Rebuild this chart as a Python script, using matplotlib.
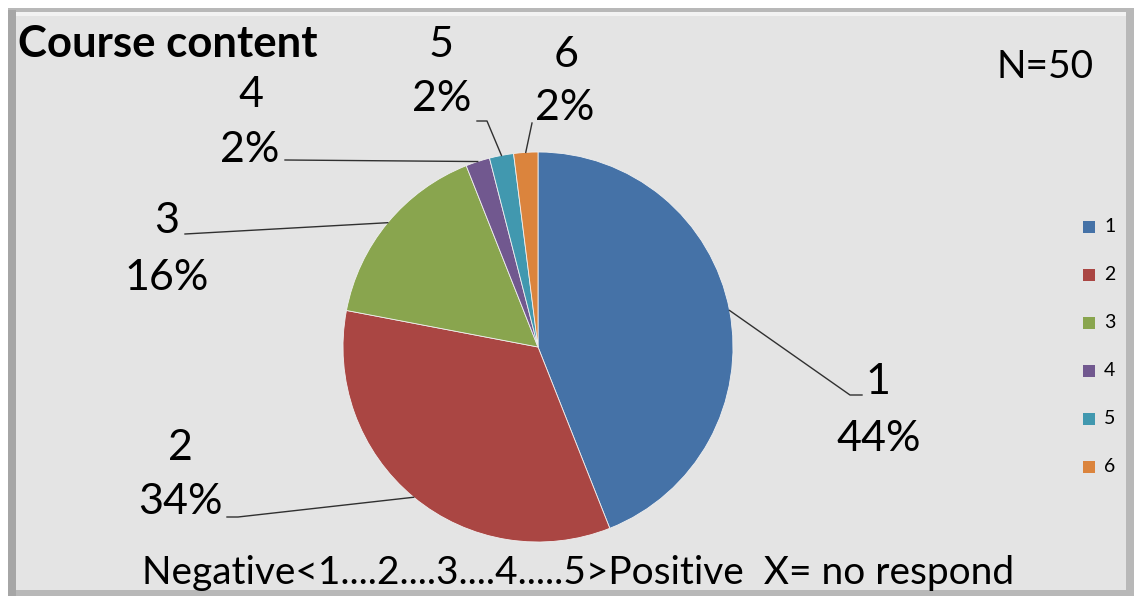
import matplotlib
matplotlib.use("Agg")
import matplotlib.pyplot as plt
from matplotlib.patches import Rectangle
import numpy as np

# ---- data ----
categories = ["1", "2", "3", "4", "5", "6"]
values = [44, 34, 16, 2, 2, 2]
pct_labels = ["44%", "34%", "16%", "2%", "2%", "2%"]
colors = ["#4572A7", "#AA4643", "#89A54E", "#71588F", "#4198AF", "#DB843D"]
title = "Course content"
n_text = "N=50"
footer = "Negative<1....2....3....4.....5>Positive  X= no respond"

W, H = 1138, 601
FONT = ["Lato", "DejaVu Sans"]
plt.rcParams["font.family"] = FONT

fig = plt.figure(figsize=(W / 100, H / 100), dpi=100)
fig.patch.set_facecolor("white")
ax = fig.add_axes([0, 0, 1, 1])

def Y(y):  # screen pixel -> data y
    return H - y

# frame / background
ax.add_patch(Rectangle((8, Y(596)), 1126, 588, facecolor="#b8b8b8", edgecolor="none", zorder=0))
ax.add_patch(Rectangle((8, Y(596)), 8, 586, facecolor="#a6a6a6", edgecolor="none", zorder=0))
ax.add_patch(Rectangle((16, Y(590)), 1110, 578, facecolor="#e4e4e4", edgecolor="none", zorder=0))
ax.add_patch(Rectangle((16, Y(16)), 1110, 4, facecolor="#f2f2f2", edgecolor="none", zorder=0))

# pie
cx, cy, r = 538, Y(347), 195
wedges, _ = ax.pie(values, colors=colors, startangle=90, counterclock=False,
                   center=(cx, cy), radius=r,
                   wedgeprops=dict(edgecolor="#f0f0f0", linewidth=0.6))

# labels: (num center), (pct center), path (elbow points, screen)
num_pos = [(878, 382), (180, 448), (167, 221), (251, 95), (441, 45), (566, 55)]
pct_pos = [(879, 439), (180, 502), (167, 278), (250, 150), (442, 99), (565, 108)]
elbows = [[(850, 395), (862, 395)],
          [(238, 517), (227, 517)],
          [(185, 234)],
          [(285, 160)],
          [(487, 121), (477, 121)],
          [(532, 123)]]
fs_lab = 31
for i, w in enumerate(wedges):
    ang = np.deg2rad((w.theta1 + w.theta2) / 2)
    x0 = cx + r * np.cos(ang)
    y0 = cy + r * np.sin(ang)
    xs = [x0] + [p[0] for p in elbows[i]]
    ys = [y0] + [Y(p[1]) for p in elbows[i]]
    ax.plot(xs, ys, color="#303030", lw=1.0, zorder=3)
    ax.text(num_pos[i][0], Y(num_pos[i][1]), categories[i], fontsize=fs_lab,
            ha="center", va="center", color="black")
    ax.text(pct_pos[i][0], Y(pct_pos[i][1]), pct_labels[i], fontsize=fs_lab,
            ha="center", va="center", color="black")

# title, N, footer
ax.text(18, Y(44), title, fontsize=31.5, fontweight="bold", ha="left", va="center", color="black")
ax.text(1045, Y(67), n_text, fontsize=28, ha="center", va="center", color="black")
ax.text(578, Y(573), footer, fontsize=28, ha="center", va="center", color="black")

# legend
leg_y = [227, 275, 323, 371, 419, 467]
for i, c in enumerate(categories):
    ax.add_patch(Rectangle((1083, Y(leg_y[i]) - 6), 12, 12, facecolor=colors[i], edgecolor="none"))
    ax.text(1104, Y(leg_y[i]), c, fontsize=14, ha="left", va="center", color="black")

ax.set_xlim(0, W)
ax.set_ylim(0, H)
ax.set_aspect("auto")
ax.axis("off")
fig.savefig("out.png", dpi=100, facecolor="white")
